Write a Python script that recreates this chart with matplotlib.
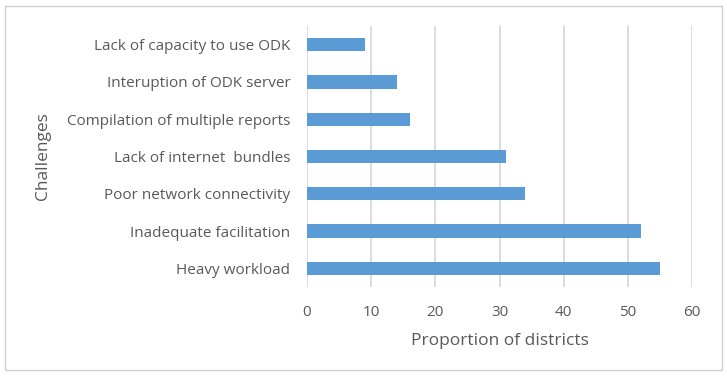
import matplotlib
matplotlib.use('Agg')
import matplotlib.pyplot as plt
from matplotlib.patches import Rectangle

# challenges listed bottom to top, as drawn
challenges = ['Heavy workload', 'Inadequate facilitation', 'Poor network connectivity',
              'Lack of internet  bundles', 'Compilation of multiple reports',
              'Interuption of ODK server', 'Lack of capacity to use ODK']
proportion = [55, 52, 34, 31, 16, 14, 9]
xticks = [0, 10, 20, 30, 40, 50, 60]

plt.rcParams['font.family'] = ['Open Sans', 'DejaVu Sans']
grey = '#595959'

fig = plt.figure(figsize=(7.27, 3.76), dpi=100)
ax = fig.add_axes([307/727, 1-287/376, (692-307)/727, (287-26)/376])

ax.barh(range(len(challenges)), proportion, height=0.36, color='#5b9bd5', zorder=3)
ax.set_xlim(0, 60)
ax.set_ylim(-0.5, len(challenges) - 0.5)
ax.set_xticks(xticks)
ax.set_yticks(range(len(challenges)))
ax.set_yticklabels(challenges)
ax.grid(axis='x', color='#d9d9d9', linewidth=1.3, zorder=0)
for s in ax.spines.values():
    s.set_visible(False)
ax.tick_params(length=0, labelsize=11, colors=grey)
ax.tick_params(axis='x', pad=13)
ax.tick_params(axis='y', pad=12)
ax.set_xlabel('Proportion of districts', fontsize=12.5, color=grey, labelpad=9)
ax.set_ylabel('Challenges', fontsize=12.5, color=grey)
ax.yaxis.set_label_coords(-0.665, 0.5)

fig.patches.append(Rectangle((5/727, 6/376), 717/727, 364/376, transform=fig.transFigure,
                             fill=False, edgecolor='#d0d0d0', linewidth=1))

fig.savefig('out.png', dpi=100)
